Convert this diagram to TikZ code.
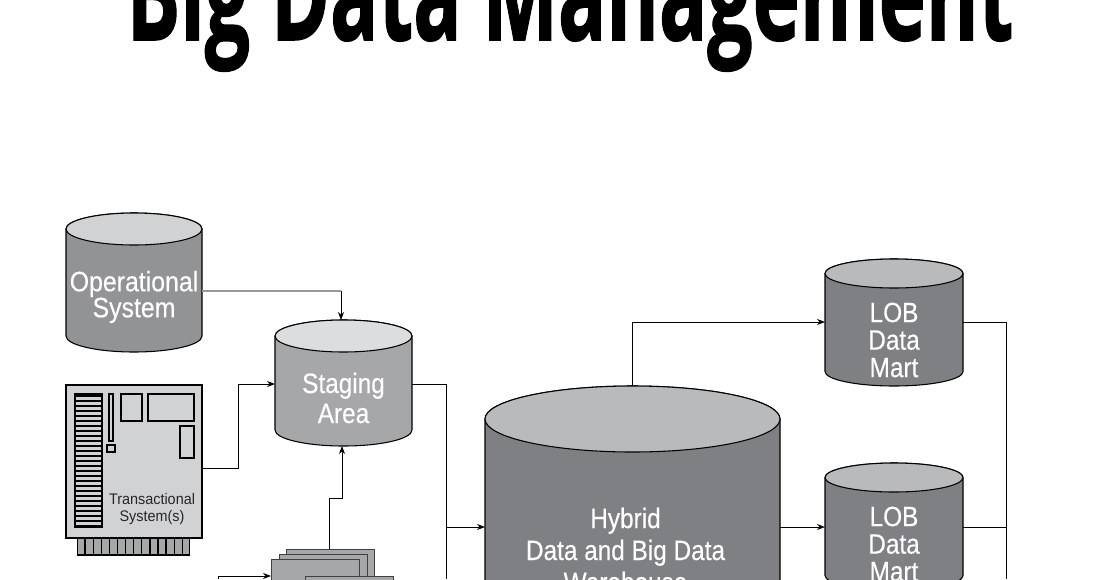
\documentclass[tikz,border=0pt]{standalone}
\usepackage{fontspec}
\setmainfont{Liberation Sans}
\newfontfamily\titlefont[BoldFeatures={FakeBold=1.2}]{Open Sans}
\newfontfamily\cylfont[FakeBold=0.3]{Liberation Sans}
\usetikzlibrary{arrows.meta}

\definecolor{cylbody}{HTML}{7F8083}
\definecolor{cyltop}{HTML}{B9BABC}
\definecolor{opbody}{HTML}{929395}
\definecolor{optop}{HTML}{D1D2D4}
\definecolor{stagebody}{HTML}{A6A7A9}
\definecolor{stagetop}{HTML}{DCDDDE}
\definecolor{cardfill}{HTML}{D1D2D4}
\definecolor{pagefill}{HTML}{A6A7A9}

\tikzset{
  dbline/.style={draw=black,line width=0.8pt},
  link/.style={draw=black,line width=0.6pt,-{Stealth[length=6pt,width=4.5pt]}},
  plainlink/.style={draw=black,line width=0.6pt},
  cardpart/.style={draw=black,line width=1.3pt},
  pagebox/.style={draw=black!75,line width=1pt,fill=pagefill,minimum width=66pt,minimum height=40pt,anchor=north west,inner sep=0pt},
  cyltext/.style={text=white,align=center,inner sep=0pt,xscale=0.87},
}

% name, centre x, top y, bottom y, x radius, y radius, body colour, top colour
\newcommand{\dbcyl}[8]{
  \draw[dbline,fill=#7] (#2-#5,#3+#6) -- (#2-#5,#4-#6)
    arc[start angle=180,end angle=0,x radius=#5,y radius=#6]
    -- (#2+#5,#3+#6) arc[start angle=0,end angle=-180,x radius=#5,y radius=#6] -- cycle;
  \draw[dbline,fill=#8] (#2,#3+#6) ellipse[x radius=#5,y radius=#6];
  \node[inner sep=0pt,outer sep=0pt,minimum width={2*#5*0.75pt},minimum height={(#4-#3)*0.75pt}] (#1) at (#2,{(#3+#4)/2}) {};
}

\begin{document}
\begin{tikzpicture}[x=0.75pt,y=-0.75pt]
  \useasboundingbox (0,0) rectangle (1102,579);
  \clip (0,0) rectangle (1102,579);

  % title
  \node[anchor=base,font=\titlefont\bfseries\fontsize{98pt}{110pt}\selectfont,xscale=0.613,inner sep=0pt] (title) at (570,40) {Big Data Management};

  % cylinders
  \dbcyl{operational}{134}{213}{352}{68}{16}{opbody}{optop}
  \dbcyl{staging}{343.5}{320}{446}{68.5}{16}{stagebody}{stagetop}
  \dbcyl{hybrid}{632.5}{386}{720}{147.5}{33}{cylbody}{cyltop}
  \dbcyl{lobone}{894}{259}{386}{69}{14.5}{cylbody}{cyltop}
  \dbcyl{lobtwo}{894}{463}{590}{69}{14.5}{cylbody}{cyltop}

  % computer card
  \node[draw=black,line width=1.3pt,fill=pagefill,minimum width=84pt,minimum height=13pt,inner sep=0pt] (fingers) at (133.5,546.5) {};
  \foreach \i in {1,...,13}
    \draw[line width=1pt] (77+\i*8.1,538) -- (77+\i*8.1,555);
  \node[draw=black,line width=1.7pt,fill=cardfill,minimum width=102pt,minimum height=115pt,inner sep=0pt] (card) at (134,461.5) {};
  \draw[cardpart] (75,394) rectangle (102,527);
  \foreach \i in {0,...,26}
    \draw[line width=1.2pt] (75,396+\i*5) -- (102,396+\i*5);
  \draw[cardpart] (109,394) rectangle (113,441);
  \draw[cardpart] (107,445) rectangle (115,452);
  \draw[cardpart] (121,394) rectangle (142,421);
  \draw[cardpart] (148,394) rectangle (194,421);
  \draw[cardpart] (180,426) rectangle (194,458);
  \node[font=\fontsize{11.5pt}{13pt}\selectfont,xscale=0.94,align=center,inner sep=0pt,text=black!85] (cardtext) at (152,509) {Transactional\\System(s)};

  % stacked pages
  \node[pagebox] (pagea) at (286,549) {};
  \node[pagebox] (pageb) at (279,554) {};
  \node[pagebox] (pagec) at (271,559) {};
  \node[pagebox] (paged) at (305,576) {};

  % labels
  \node[cyltext,xscale=1.02,font=\cylfont\fontsize{21pt}{19.5pt}\selectfont] (optext) at (134,297) {Operational\\System};
  \node[cyltext,font=\cylfont\fontsize{21pt}{22.5pt}\selectfont] (stagetext) at (343.5,398) {Staging\\Area};
  \node[cyltext,font=\cylfont\fontsize{21pt}{24pt}\selectfont] (hybridtext) at (625.5,550) {Hybrid\\Data and Big Data\\Warehouse};
  \node[cyltext,font=\cylfont\fontsize{21pt}{20.6pt}\selectfont] (lobonetext) at (894,340) {LOB\\Data\\Mart};
  \node[cyltext,font=\cylfont\fontsize{21pt}{20.6pt}\selectfont] (lobtwotext) at (894,544) {LOB\\Data\\Mart};

  % connectors
  \coordinate (opcorner) at (341,291);
  \coordinate (sourcein) at (218,579);
  \coordinate (collect) at (446,579);
  \coordinate (martout) at (1006,579);
  \draw[plainlink,draw=black!40,line width=0.9pt] (operational.east |- opcorner) -- (opcorner);
  \draw[link] (opcorner) -- (341,320);
  \draw[link] (card.east |- 0,468) -- (238,468) -- (238,384) -- (staging.west |- 0,384);
  \draw[link] (pagea.north -| 329,0) -- (329,498) -- (342,498) -- (342,446);
  \draw[link] (sourcein) -- (218,576) -- (271,576);
  \draw[plainlink] (staging.east |- 0,384) -- (446,384) -- (collect);
  \draw[link] (446,527) -- (hybrid.west |- 0,527);
  \draw[link] (632,386) -- (632,322) -- (lobone.west |- 0,322);
  \draw[link] (hybrid.east |- 0,527) -- (lobtwo.west |- 0,527);
  \draw[plainlink] (lobone.east |- 0,322) -- (1006,322) -- (martout);
  \draw[plainlink] (lobtwo.east |- 0,527) -- (1006,527);
\end{tikzpicture}
\end{document}
